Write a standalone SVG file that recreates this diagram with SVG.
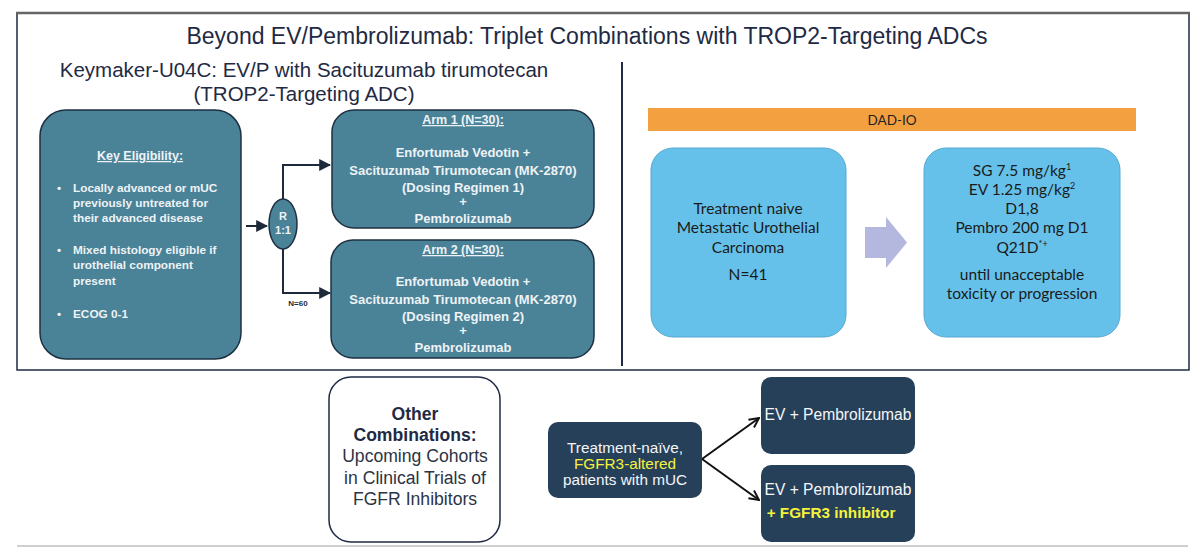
<svg xmlns="http://www.w3.org/2000/svg" width="1200" height="557" viewBox="0 0 1200 557">
<defs>
<style>
.sans{font-family:"Liberation Sans",Arial,sans-serif}
.cal{font-family:Lato,"Liberation Sans",sans-serif}
.teal{fill:#4a8298;stroke:#1e3142;stroke-width:1.5}
.sky{fill:#66c1ea;stroke:#55a8d0;stroke-width:1}
.navy{fill:#26405a}
.lt{fill:#eef3f6;font-weight:bold}
.wt{fill:#f4f6f8}
.yl{fill:#f4f23c}
.dk{fill:#1f2a44}
.conn{fill:none;stroke:#1e2a3a;stroke-width:2}
.conn2{fill:none;stroke:#111;stroke-width:2}
</style>
<marker id="tri" viewBox="0 0 10 10" refX="9" refY="5" markerWidth="6" markerHeight="6" orient="auto" markerUnits="strokeWidth">
<path d="M0,0 L10,5 L0,10 Z" fill="#1e2a3a"/>
</marker>
<marker id="vee" viewBox="0 0 10 10" refX="9" refY="5" markerWidth="6" markerHeight="6" orient="auto" markerUnits="strokeWidth">
<path d="M1,1 L9,5 L1,9" fill="none" stroke="#111" stroke-width="1.6"/>
</marker>
</defs>
<rect width="1200" height="557" fill="#ffffff"/>

<g id="frame">
<path d="M17,13 V370 H1189 V13" fill="none" stroke="#1f2a44" stroke-width="1.5"/>
<line x1="16" y1="13" x2="1190" y2="13" stroke="#666" stroke-width="2.5"/>
<line x1="622" y1="62" x2="622" y2="366" stroke="#1f2a44" stroke-width="2"/>
<line x1="17" y1="546" x2="1188" y2="546" stroke="#cfcfcf" stroke-width="2"/>
</g>

<g id="titles" class="sans">
<text x="587" y="44" font-size="23" text-anchor="middle" class="dk">Beyond EV/Pembrolizumab: Triplet Combinations with TROP2-Targeting ADCs</text>
<text x="304" y="77" font-size="20.5" text-anchor="middle" class="dk">Keymaker-U04C: EV/P with Sacituzumab tirumotecan</text>
<text x="304" y="101" font-size="20.5" text-anchor="middle" class="dk">(TROP2-Targeting ADC)</text>
</g>

<g id="eligibility" class="sans">
<rect x="40" y="110" width="201" height="249" rx="26" class="teal"/>
<text x="140" y="160" font-size="12.5" text-anchor="middle" class="lt" text-decoration="underline">Key Eligibility:</text>
<g font-size="11.8" class="lt">
<text x="57" y="192">•</text>
<text x="73" y="192">Locally advanced or mUC</text>
<text x="73" y="207">previously untreated for</text>
<text x="73" y="222">their advanced disease</text>
<text x="57" y="254">•</text>
<text x="73" y="254">Mixed histology eligible if</text>
<text x="73" y="269">urothelial component</text>
<text x="73" y="285">present</text>
<text x="57" y="318">•</text>
<text x="73" y="318">ECOG 0-1</text>
</g>
</g>

<g id="randomize" class="sans">
<ellipse cx="283" cy="224" rx="14" ry="25" class="teal"/>
<text x="283" y="220" font-size="11" text-anchor="middle" class="lt">R</text>
<text x="283" y="234" font-size="11" text-anchor="middle" class="lt">1:1</text>
</g>

<g id="arm1" class="sans">
<rect x="332" y="110" width="262" height="118" rx="22" class="teal"/>
<text x="463" y="124" font-size="12.5" text-anchor="middle" class="lt" text-decoration="underline">Arm 1 (N=30):</text>
<g font-size="13" text-anchor="middle" class="lt">
<text x="463" y="157">Enfortumab Vedotin +</text>
<text x="463" y="175">Sacituzumab Tirumotecan (MK-2870)</text>
<text x="463" y="192">(Dosing Regimen 1)</text>
<text x="463" y="206">+</text>
<text x="463" y="223">Pembrolizumab</text>
</g>
</g>

<g id="arm2" class="sans">
<rect x="331" y="240" width="263" height="118" rx="22" class="teal"/>
<text x="463" y="254" font-size="12.5" text-anchor="middle" class="lt" text-decoration="underline">Arm 2 (N=30):</text>
<g font-size="13" text-anchor="middle" class="lt">
<text x="463" y="286">Enfortumab Vedotin +</text>
<text x="463" y="304">Sacituzumab Tirumotecan (MK-2870)</text>
<text x="463" y="321">(Dosing Regimen 2)</text>
<text x="463" y="335">+</text>
<text x="463" y="352">Pembrolizumab</text>
</g>
</g>

<g id="connectors">
<line x1="246" y1="226" x2="267" y2="226" class="conn" stroke-width="1.6" marker-end="url(#tri)"/>
<path d="M283,199 V165 H330" class="conn" marker-end="url(#tri)"/>
<path d="M283,249 V293 H330" class="conn" marker-end="url(#tri)"/>
<line x1="702" y1="459" x2="759" y2="418" class="conn2" marker-end="url(#vee)"/>
<line x1="702" y1="459" x2="759" y2="500" class="conn2" marker-end="url(#vee)"/>
</g>
<text x="298" y="306" font-size="8" text-anchor="middle" class="sans" font-weight="bold" fill="#1f2a3a">N=60</text>

<g id="dadio" class="cal">
<rect x="648" y="108" width="488" height="23" fill="#f2a040"/>
<text x="892" y="125" font-size="13.5" text-anchor="middle" fill="#222">DAD-IO</text>
</g>

<g id="population" class="cal">
<rect x="651" y="148" width="195" height="189" rx="22" class="sky"/>
<g font-size="15.5" text-anchor="middle" fill="#1a1a1a">
<text x="748" y="214">Treatment naive</text>
<text x="748" y="233">Metastatic Urothelial</text>
<text x="748" y="253">Carcinoma</text>
<text x="748" y="280">N=41</text>
</g>
</g>

<g id="bigarrow">
<path d="M865,227 H886 V217 L907,242.5 L886,268 V258 H865 Z" fill="#b4b7de"/>
</g>

<g id="regimen" class="cal">
<rect x="924" y="148" width="196" height="189" rx="22" class="sky"/>
<g font-size="15.5" text-anchor="middle" fill="#1a1a1a">
<text x="1022" y="176">SG 7.5 mg/kg<tspan font-size="9" dy="-6">1</tspan></text>
<text x="1022" y="195">EV 1.25 mg/kg<tspan font-size="9" dy="-6">2</tspan></text>
<text x="1022" y="214">D1,8</text>
<text x="1022" y="233">Pembro 200 mg D1</text>
<text x="1022" y="253">Q21D<tspan font-size="9" dy="-6">*+</tspan></text>
<text x="1022" y="280">until unacceptable</text>
<text x="1022" y="299">toxicity or progression</text>
</g>
</g>

<g id="other" class="sans">
<rect x="329" y="377" width="171" height="165" rx="22" fill="#ffffff" stroke="#1f2a44" stroke-width="1.5"/>
<g font-size="17.6" text-anchor="middle">
<text x="415" y="420" font-weight="bold" class="dk">Other</text>
<text x="415" y="441" font-weight="bold" class="dk">Combinations:</text>
<text x="415" y="462" fill="#2c3444">Upcoming Cohorts</text>
<text x="415" y="484" fill="#2c3444">in Clinical Trials of</text>
<text x="415" y="505" fill="#2c3444">FGFR Inhibitors</text>
</g>
</g>

<g id="fgfr-patients" class="sans">
<rect x="548" y="422" width="154" height="76" rx="10" class="navy"/>
<g font-size="15.3" text-anchor="middle">
<text x="625" y="453" class="wt">Treatment-naïve,</text>
<text x="625" y="469" class="yl">FGFR3-altered</text>
<text x="625" y="485" class="wt">patients with mUC</text>
</g>
</g>

<g id="ev-pembro" class="sans">
<rect x="761" y="377" width="154" height="77" rx="10" class="navy"/>
<text x="838" y="420" font-size="15.6" text-anchor="middle" class="wt">EV + Pembrolizumab</text>
</g>

<g id="ev-pembro-fgfr3" class="sans">
<rect x="761" y="465" width="154" height="77" rx="10" class="navy"/>
<text x="838" y="495" font-size="15.6" text-anchor="middle" class="wt">EV + Pembrolizumab</text>
<text x="831" y="518" font-size="15.3" font-weight="bold" text-anchor="middle" class="yl">+ FGFR3 inhibitor</text>
</g>
</svg>
